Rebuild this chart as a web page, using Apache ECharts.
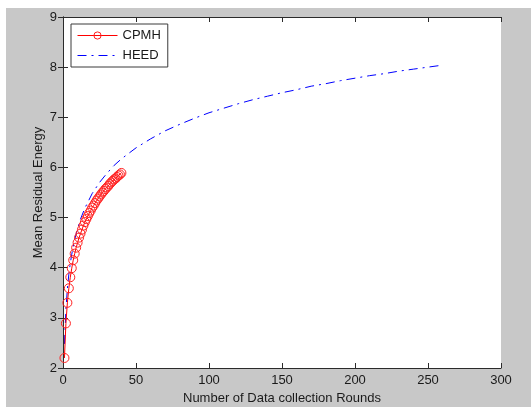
<!DOCTYPE html>
<html>
<head>
<meta charset="utf-8">
<script src="https://cdn.jsdelivr.net/npm/echarts@6/dist/echarts.min.js"></script>
<style>
	body { margin: 0; background: #fff; }
	#container { width: 531px; height: 407px; }
</style>
</head>
<body>
<div id="container"></div>
<script>
// CPMH: one marker per round, rounds 1..40
var cpmhRounds = [1, 2, 3, 4, 5, 6, 7, 8, 9, 10, 11, 12, 13, 14, 15, 16, 17, 18, 19, 20,
	21, 22, 23, 24, 25, 26, 27, 28, 29, 30, 31, 32, 33, 34, 35, 36, 37, 38, 39, 40];
var cpmhEnergy = [2.20, 2.89, 3.30, 3.59, 3.81, 3.99, 4.15, 4.28, 4.40, 4.50,
	4.60, 4.68, 4.76, 4.84, 4.91, 4.97, 5.03, 5.09, 5.14, 5.20,
	5.24, 5.29, 5.34, 5.38, 5.42, 5.46, 5.50, 5.53, 5.57, 5.60,
	5.63, 5.67, 5.70, 5.73, 5.76, 5.78, 5.81, 5.84, 5.86, 5.89];
// HEED
var heedRounds = [1, 2, 3, 4, 5, 6, 8, 10, 12, 15, 20, 25, 30, 35, 40, 50, 60, 70, 80, 90,
	100, 110, 120, 130, 140, 150, 160, 170, 180, 190, 200, 210, 220, 230, 240, 250, 260];
var heedEnergy = [2.48, 3.17, 3.58, 3.87, 4.09, 4.27, 4.56, 4.78, 4.97, 5.19, 5.48, 5.70, 5.88, 6.04, 6.17, 6.39, 6.57, 6.73, 6.86, 6.98,
	7.09, 7.18, 7.27, 7.35, 7.42, 7.49, 7.55, 7.62, 7.67, 7.73, 7.78, 7.83, 7.87, 7.92, 7.96, 8.00, 8.04];

var seriesNames = ['CPMH', 'HEED'];

function pairs(xs, ys) {
	var out = [];
	for (var i = 0; i < xs.length; i++) {
		out.push([xs[i], ys[i]]);
	}
	return out;
}

var dom = document.getElementById("container");
var myChart = echarts.init(dom);
var textColor = '#1a1a1a';
var axisColor = '#2b2b2b';
var fontFam = 'Liberation Sans, Arial, sans-serif';

var option = {
	backgroundColor: '#fff',
	animation: false,
	graphic: [{
		type: 'rect',
		z: -10,
		shape: { x: 6, y: 8, width: 531, height: 407 },
		style: { fill: '#c8c8c8' }
	}],
	grid: {
		left: 63,
		right: 30,
		top: 17,
		bottom: 39,
		outerBoundsMode: 'none',
		show: true,
		backgroundColor: '#fff',
		borderWidth: 0
	},
	legend: {
		left: 71,
		top: 24,
		orient: 'vertical',
		data: [seriesNames[0], { name: seriesNames[1], itemStyle: { opacity: 0 } }],
		backgroundColor: '#fff',
		borderColor: '#3a3a3a',
		borderWidth: 1,
		borderRadius: 0,
		padding: [5, 7, 5, 6],
		itemWidth: 40,
		itemHeight: 9,
		itemGap: 7,
		lineStyle: { width: 1 },
		itemStyle: { borderWidth: 1 },
		textStyle: { color: textColor, fontSize: 13, fontFamily: fontFam }
	},
	xAxis: [{
		type: 'value',
		min: 0,
		max: 300,
		interval: 50,
		name: 'Number of Data collection Rounds',
		nameLocation: 'middle',
		nameGap: 24,
		nameMoveOverlap: false,
		nameTextStyle: { color: textColor, fontSize: 13, fontFamily: fontFam },
		axisLine: { lineStyle: { color: axisColor } },
		axisTick: { inside: true, length: 5, lineStyle: { color: axisColor } },
		axisLabel: { color: textColor, fontSize: 13, fontFamily: fontFam, margin: 6 },
		splitLine: { show: false }
	}, {
		type: 'value',
		position: 'top',
		min: 0,
		max: 300,
		interval: 50,
		axisLine: { show: true, lineStyle: { color: axisColor } },
		axisTick: { inside: true, length: 5, lineStyle: { color: axisColor } },
		axisLabel: { show: false },
		splitLine: { show: false }
	}],
	yAxis: [{
		type: 'value',
		min: 2,
		max: 9,
		interval: 1,
		name: 'Mean Residual Energy',
		nameLocation: 'middle',
		nameGap: 18,
		nameMoveOverlap: false,
		nameTextStyle: { color: textColor, fontSize: 13, fontFamily: fontFam },
		axisLine: { show: true, lineStyle: { color: axisColor } },
		axisTick: { show: true, inside: true, length: 5, lineStyle: { color: axisColor } },
		axisLabel: { color: textColor, fontSize: 13, fontFamily: fontFam, margin: 6 },
		splitLine: { show: false }
	}, {
		type: 'value',
		position: 'right',
		min: 2,
		max: 9,
		interval: 1,
		axisLine: { show: true, lineStyle: { color: axisColor } },
		axisTick: { show: true, inside: true, length: 5, lineStyle: { color: axisColor } },
		axisLabel: { show: false },
		splitLine: { show: false }
	}],
	series: [{
		name: seriesNames[1],
		type: 'line',
		data: pairs(heedRounds, heedEnergy),
		symbol: 'none',
		color: '#0000ff',
		lineStyle: { color: '#0000ff', width: 1, type: [9, 5, 2, 5] },
		z: 2
	}, {
		name: seriesNames[0],
		type: 'line',
		data: pairs(cpmhRounds, cpmhEnergy),
		symbol: 'circle',
		symbolSize: 9,
		color: '#ff0000',
		itemStyle: { color: 'rgba(255,255,255,0)', borderColor: '#ff2020', borderWidth: 1 },
		lineStyle: { color: '#ff0000', width: 1 },
		z: 3
	}]
};
myChart.setOption(option, true);
</script>
</body>
</html>
